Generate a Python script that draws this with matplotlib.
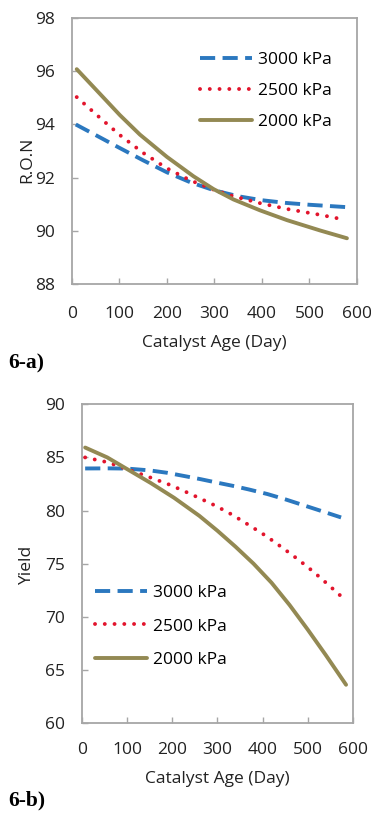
import matplotlib
matplotlib.use("Agg")
import matplotlib.pyplot as plt

# ---- data ----
labels = ["3000 kPa", "2500 kPa", "2000 kPa"]

ron_3000_x = [8, 50, 100, 150, 200, 250, 300, 350, 400, 450, 500, 579]
ron_3000_y = [94.0, 93.6, 93.12, 92.65, 92.2, 91.82, 91.52, 91.3, 91.15, 91.05, 90.98, 90.89]
ron_2500_x = [10, 59, 101, 150, 200, 249, 298, 340, 396, 453, 523, 565]
ron_2500_y = [95.03, 94.25, 93.6, 92.93, 92.35, 91.9, 91.55, 91.3, 91.04, 90.82, 90.6, 90.45]
ron_2000_x = [10, 59, 101, 143, 200, 256, 298, 340, 396, 453, 523, 579]
ron_2000_y = [96.08, 95.15, 94.35, 93.62, 92.78, 92.05, 91.57, 91.18, 90.77, 90.4, 90.01, 89.72]

yld_3000_x = [7, 60, 100, 150, 189, 230, 263, 300, 337, 370, 411, 450, 485, 530, 574]
yld_3000_y = [83.96, 83.97, 83.95, 83.78, 83.55, 83.22, 82.95, 82.62, 82.3, 81.98, 81.55,
              81.06, 80.58, 79.96, 79.35]
yld_2500_x = [7, 56, 100, 152, 196, 241, 296, 333, 371, 408, 444, 479, 513, 545, 578]
yld_2500_y = [85.0, 84.55, 83.9, 83.1, 82.4, 81.55, 80.45, 79.6, 78.6, 77.6, 76.5, 75.39,
              74.23, 73.04, 71.78]
yld_2000_x = [7, 56, 100, 152, 204, 260, 300, 340, 380, 420, 460, 500, 540, 585]
yld_2000_y = [85.93, 85.0, 83.9, 82.6, 81.2, 79.5, 78.1, 76.6, 75.0, 73.2, 71.1, 68.8,
              66.4, 63.6]

ron_ticks = [88, 90, 92, 94, 96, 98]
yld_ticks = [60, 65, 70, 75, 80, 85, 90]
x_ticks = [0, 100, 200, 300, 400, 500, 600]

# ---- style ----
BLUE = "#2b78bf"
RED = "#e2142c"
OLIVE = "#938953"
SPINE = "#a6a6a6"
TXT = "#222222"
FS = 12.5
plt.rcParams["font.family"] = ["Open Sans", "DejaVu Sans"]

fig = plt.figure(figsize=(3.71, 8.13), dpi=100)
ax1 = fig.add_axes([0.194, 0.6507, 0.768, 0.327])
ax2 = fig.add_axes([0.221, 0.1107, 0.730, 0.392])


def style(ax, yticks, ylabel, xpad, xlabelpad):
    for s in ax.spines.values():
        s.set_color(SPINE)
        s.set_linewidth(1.3)
    ax.set_xlim(0, 600)
    ax.set_xticks(x_ticks)
    ax.set_yticks(yticks)
    ax.set_ylim(yticks[0], yticks[-1])
    ax.tick_params(direction="in", color=SPINE, length=4, width=1.0,
                   labelsize=FS, labelcolor=TXT)
    ax.tick_params(axis="x", pad=xpad)
    ax.tick_params(axis="y", pad=12)
    ax.set_ylabel(ylabel, fontsize=FS, color=TXT)
    ax.set_xlabel("Catalyst Age (Day)", fontsize=FS, color=TXT, labelpad=xlabelpad)


def draw(ax, data):
    (x3, y3), (x25, y25), (x2, y2) = data
    ax.plot(x3, y3, color=BLUE, lw=2.8, linestyle=(0, (3.9, 1.9)),
            dash_capstyle="butt", label=labels[0])
    ax.plot(x25, y25, color=RED, lw=2.8, linestyle=(0, (0.01, 2.5)),
            dash_capstyle="round", label=labels[1])
    ax.plot(x2, y2, color=OLIVE, lw=2.8, solid_capstyle="round", label=labels[2])


draw(ax1, [(ron_3000_x, ron_3000_y), (ron_2500_x, ron_2500_y), (ron_2000_x, ron_2000_y)])
style(ax1, ron_ticks, "R.O.N", 15.5, 10)
ax1.yaxis.set_label_coords(-0.13, 0.466)
ax1.legend(loc="upper left", bbox_to_anchor=(0.449, 0.874), frameon=False,
           fontsize=FS, handlelength=3.0, handletextpad=0.35, labelspacing=0.86,
           borderaxespad=0, borderpad=0)

draw(ax2, [(yld_3000_x, yld_3000_y), (yld_2500_x, yld_2500_y), (yld_2000_x, yld_2000_y)])
style(ax2, yld_ticks, "Yield", 14, 9)
ax2.yaxis.set_label_coords(-0.173, 0.495)
ax2.legend(loc="upper left", bbox_to_anchor=(0.048, 0.434), frameon=False,
           fontsize=FS, handlelength=3.0, handletextpad=0.35, labelspacing=1.01,
           borderaxespad=0, borderpad=0)

serif = ["Liberation Serif", "DejaVu Serif"]
fig.text(8 / 371, 1 - 363 / 813, "6-a)", fontsize=15.5, fontweight="bold",
         family=serif, va="center")
fig.text(8 / 371, 1 - 800 / 813, "6-b)", fontsize=15.5, fontweight="bold",
         family=serif, va="center")

fig.savefig("out.png", dpi=100)
